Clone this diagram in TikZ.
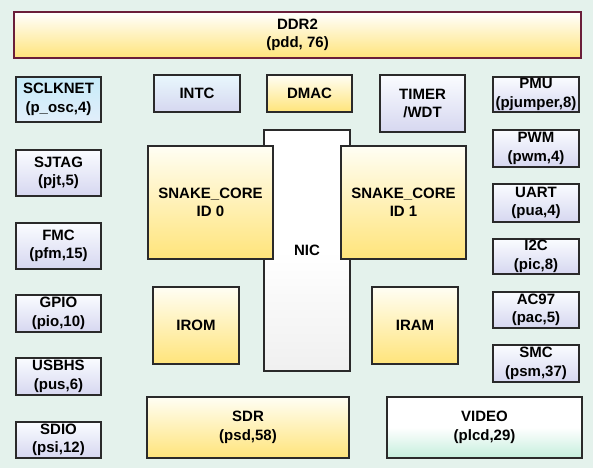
\documentclass[tikz,border=0pt]{standalone}
\usepackage{fontspec}
\setmainfont{Liberation Sans}
\definecolor{bgc}{HTML}{E4F2EC}
\definecolor{edge}{HTML}{2A2A2A}
\definecolor{ddredge}{HTML}{6A1E3A}
\definecolor{ylwbot}{HTML}{FFE47A}
\definecolor{ylwtop}{HTML}{FFFEF4}
\definecolor{lavbot}{HTML}{D6D7F0}
\definecolor{lavtop}{HTML}{FAFCFF}
\definecolor{blutop}{HTML}{C6ECF9}
\definecolor{blubot}{HTML}{E2EEFA}
\definecolor{mintbot}{HTML}{C4EEDC}
\begin{document}
\begin{tikzpicture}[x=1pt,y=-1pt,
  box/.style={draw=edge, line width=1.8pt, align=center, inner sep=0pt,
    font=\fontsize{15}{18.5}\selectfont\bfseries},
  ybox/.style={box, top color=ylwtop, bottom color=ylwbot},
  lbox/.style={box, top color=lavtop, bottom color=lavbot},
  bbox/.style={box, top color=blutop, bottom color=blubot},
  wbox/.style={box, top color=white, bottom color=mintbot, middle color=white},
  nbox/.style={box, top color=white, bottom color=gray!12, middle color=white},
  sz/.style 2 args={minimum width=#1pt, minimum height=#2pt}]
\fill[bgc] (0,0) rectangle (593,468);
\useasboundingbox (0,0) rectangle (593,468);
% top
\node[box, draw=ddredge, top color=white, bottom color=ylwbot, sz={567}{46}] (ddr) at (297.5,35) {DDR2\\(pdd, 76)};
% left column
\node[bbox, sz={85}{45}] (sclk) at (58.5,99.5) {SCLKNET\\(p\_osc,4)};
\node[lbox, sz={85}{46}] (sjtag) at (58.5,173) {SJTAG\\(pjt,5)};
\node[lbox, sz={85}{46}] (fmc) at (58.5,246) {FMC\\(pfm,15)};
\node[lbox, sz={85}{37}] (gpio) at (58.5,313.5) {GPIO\\(pio,10)};
\node[lbox, sz={85}{37}] (usb) at (58.5,376.5) {USBHS\\(pus,6)};
\node[lbox, sz={85}{36}] (sdio) at (58.5,440) {SDIO\\(psi,12)};
% center
\node[lbox, top color=blutop!40!white, sz={86}{37}] (intc) at (197,93.5) {INTC};
\node[ybox, sz={85}{37}] (dmac) at (309.5,93.5) {DMAC};
\node[lbox, sz={85}{57}] (timer) at (422.5,103.5) {TIMER\\/WDT};
\node[nbox, sz={86}{241}] (nic) at (307,250.5) {NIC};
\node[ybox, sz={125}{113}] (sc0) at (210.5,202.5) {SNAKE\_CORE\\ID 0};
\node[ybox, sz={125}{113}] (sc1) at (403.5,202.5) {SNAKE\_CORE\\ID 1};
\node[ybox, sz={86}{77}] (irom) at (196,325.5) {IROM};
\node[ybox, sz={86}{77}] (iram) at (415,325.5) {IRAM};
\node[ybox, sz={202}{61}] (sdr) at (248,427.5) {SDR\\(psd,58)};
\node[wbox, sz={195}{61}] (video) at (484.5,427.5) {VIDEO\\(plcd,29)};
% right column
\node[lbox, sz={86}{35}] (pmu) at (536,94.5) {PMU\\(pjumper,8)};
\node[lbox, sz={86}{37}] (pwm) at (536,148.5) {PWM\\(pwm,4)};
\node[lbox, sz={86}{38}] (uart) at (536,203) {UART\\(pua,4)};
\node[lbox, sz={86}{35}] (i2c) at (536,256.5) {I2C\\(pic,8)};
\node[lbox, sz={86}{36}] (ac97) at (536,310) {AC97\\(pac,5)};
\node[lbox, sz={86}{37}] (smc) at (536,363.5) {SMC\\(psm,37)};
\end{tikzpicture}
\end{document}
